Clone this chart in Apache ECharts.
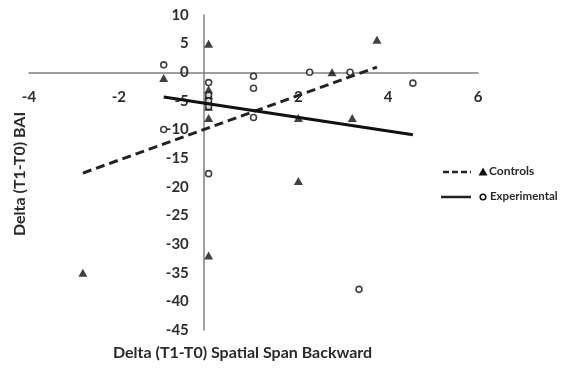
<!DOCTYPE html>
<html>
<head>
<meta charset="utf-8">
<script src="https://cdn.jsdelivr.net/npm/echarts@6/dist/echarts.min.js"></script>
<style>
  html, body { margin: 0; padding: 0; background: #fff; }
  #chart { width: 562px; height: 370px; }
</style>
</head>
<body>
<div id="chart"></div>
<script>
// Controls (triangles)
const controlsPoints = [
  [-1, -1], [0, 5], [0, -3], [0, -4], [0, -5], [0, -6], [0, -8],
  [0, -32], [-2.8, -35], [2, -19], [2, -8], [3.2, -8], [2.75, 0], [3.75, 5.7]
]
// Experimental (open circles)
const experimentalPoints = [
  [-1, 1.3], [-1, -10], [0, -1.8], [0, -4], [0, -5], [0, -6], [0, -17.7],
  [1, -0.7], [1, -2.8], [1, -7.9], [2.25, 0], [3.15, 0], [4.55, -1.9], [3.35, -37.9]
]
// trend lines (end points)
const controlsTrend = [[-2.8, -17.6], [3.75, 0.9]]
const experimentalTrend = [[-1, -4.3], [4.55, -10.9]]

const xTicks = { min: -4, max: 6, interval: 2 }
const yTicks = { min: -45, max: 10, interval: 5 }

const labelFont = 'Lato, "Open Sans", sans-serif'
const chart = echarts.init(document.getElementById('chart'))

const option = {
  animation: false,
  backgroundColor: '#ffffff',
  grid: { left: 29, right: 84, top: 15, bottom: 40 },
  xAxis: {
    type: 'value',
    min: xTicks.min,
    max: xTicks.max,
    interval: xTicks.interval,
    axisLine: { onZero: false, lineStyle: { color: '#808080', width: 1.5 } },
    axisTick: { show: false },
    splitLine: { show: false },
    axisLabel: {
      margin: 17,
      color: '#2e2e2e',
      fontFamily: labelFont,
      fontWeight: 'bold',
      fontSize: 15,
      showMinLabel: true,
      showMaxLabel: true,
      hideOverlap: false,
      formatter: v => (v === 0 ? '' : String(v))
    }
  },
  yAxis: {
    type: 'value',
    min: yTicks.min,
    max: yTicks.max,
    interval: yTicks.interval,
    axisLine: { onZero: false, lineStyle: { color: '#808080', width: 1.5 } },
    axisTick: { show: false },
    splitLine: { show: false },
    axisLabel: {
      margin: 15,
      color: '#2e2e2e',
      fontFamily: labelFont,
      fontWeight: 'bold',
      fontSize: 15,
      showMinLabel: true,
      showMaxLabel: true,
      hideOverlap: false
    }
  },
  graphic: [
    // axis names
    {
      type: 'text', left: 113, top: 345,
      style: { text: 'Delta (T1-T0) Spatial Span Backward', fill: '#2a2a2a', font: 'bold 16px ' + labelFont }
    },
    {
      type: 'text', x: 12, y: 236, rotation: Math.PI / 2,
      style: { text: 'Delta (T1-T0) BAI', fill: '#2a2a2a', font: 'bold 16px ' + labelFont }
    },
    // legend
    { type: 'line', shape: { x1: 443, y1: 172, x2: 471, y2: 172 }, style: { stroke: '#222', lineWidth: 2.5, lineDash: [6, 3] } },
    { type: 'polygon', shape: { points: [[483, 167.5], [487.5, 175.5], [478.5, 175.5]] }, style: { fill: '#111' } },
    { type: 'text', left: 489, top: 165, style: { text: 'Controls', fill: '#2a2a2a', font: 'bold 12px ' + labelFont } },
    { type: 'line', shape: { x1: 441, y1: 197, x2: 471, y2: 197 }, style: { stroke: '#222', lineWidth: 2.5 } },
    { type: 'circle', shape: { cx: 483, cy: 197, r: 2.8 }, style: { fill: '#fff', stroke: '#111', lineWidth: 1.6 } },
    { type: 'text', left: 490, top: 190, style: { text: 'Experimental', fill: '#2a2a2a', font: 'bold 11.5px ' + labelFont } }
  ],
  series: [
    {
      name: 'Controls',
      type: 'scatter',
      symbol: 'triangle',
      symbolSize: [9, 8],
      itemStyle: { color: '#111' },
      data: controlsPoints
    },
    {
      name: 'Experimental',
      type: 'scatter',
      symbol: 'circle',
      symbolSize: 6,
      itemStyle: { color: '#fff', borderColor: '#111', borderWidth: 1.6 },
      data: experimentalPoints
    },
    {
      name: 'Controls trend',
      type: 'line',
      showSymbol: false,
      lineStyle: { color: '#222', width: 3, type: [9, 5] },
      data: controlsTrend
    },
    {
      name: 'Experimental trend',
      type: 'line',
      showSymbol: false,
      lineStyle: { color: '#111', width: 3 },
      data: experimentalTrend
    }
  ]
}

chart.setOption(option)

// move both axes (line + labels) so they cross at the origin, like the excel chart
const origin = chart.convertToPixel({ gridIndex: 0 }, [0, 0])
const corner = chart.convertToPixel({ gridIndex: 0 }, [xTicks.min, yTicks.min])
chart.setOption({
  xAxis: { offset: -(corner[1] - origin[1]) },
  yAxis: { offset: -(origin[0] - corner[0]) }
})
</script>
</body>
</html>
